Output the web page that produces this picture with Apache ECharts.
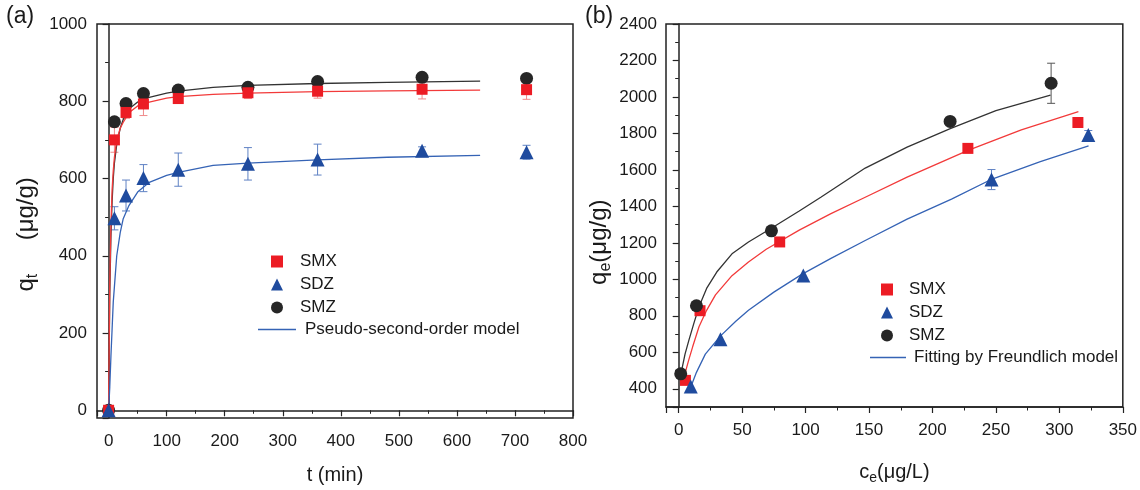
<!DOCTYPE html>
<html><head><meta charset="utf-8">
<script src="https://cdn.jsdelivr.net/npm/echarts@6/dist/echarts.min.js"></script>
<style>html,body{margin:0;padding:0;background:#fff}#c{width:1140px;height:490px}</style>
</head><body><div id="c"></div>
<script>
// ---------- Panel (a): kinetics ----------
const tMin   = [0, 10, 30, 60, 120, 240, 360, 540, 720];
const smxQt  = [0, 700, 771, 793, 807, 822, 826, 831, 830];
const sdzQt  = [0, 497, 556, 601, 623, 638, 649, 672, 668];
const smzQt  = [0, 747, 794, 820, 829, 836, 851, 862, 859];
const smxQtErr = [0, 32, 15, 30, 12, 15, 18, 25, 25];
const sdzQtErr = [0, 30, 40, 35, 43, 42, 40, 10, 18];
const smzQtErr = [0, 0, 0, 0, 0, 0, 0, 0, 0];
// fitted curves
const fitT     = [0, 2, 4, 6, 8, 10, 14, 20, 25, 35, 50, 70, 100, 120, 180, 240, 360, 480, 640];
const fitSMZa  = [0, 300, 450, 540, 600, 640, 688, 730, 752, 780, 798, 810, 821, 826, 836, 841, 846, 849, 852];
const fitSMXa  = [0, 330, 480, 570, 620, 655, 700, 730, 745, 770, 788, 798, 808, 812, 818, 821, 825, 827, 829];
const fitSDZa  = [0, 60, 140, 210, 280, 320, 400, 460, 495, 530, 565, 590, 608, 616, 634, 640, 648, 655, 660];

// ---------- Panel (b): isotherms ----------
const smxCe = [5.3, 16.8, 79.6, 227.9, 314.6];
const smxQe = [446, 828, 1205, 1718, 1860];
const sdzCe = [9.5, 32.9, 98.2, 246.5, 322.8];
const sdzQe = [412, 672, 1021, 1547, 1791];
const smzCe = [1.6, 14.0, 73.1, 213.9, 293.5];
const smzQe = [482, 855, 1266, 1866, 2075];
const smxQeErr = [0, 0, 0, 0, 0];
const sdzQeErr = [0, 0, 0, 55, 25];
const smzQeErr = [0, 0, 0, 0, 110];
const fitSMZbC = [2, 5, 8, 12, 16, 22, 30, 42, 55, 73, 95, 112, 147, 180, 214, 250, 293];
const fitSMZbQ = [490, 590, 665, 760, 850, 950, 1040, 1140, 1205, 1280, 1375, 1450, 1610, 1725, 1826, 1925, 2010];
const fitSMXbC = [4, 8, 11, 16, 22, 29, 42, 55, 69, 95, 120, 147, 180, 228, 270, 315];
const fitSMXbQ = [460, 560, 630, 740, 830, 915, 1020, 1095, 1165, 1270, 1360, 1450, 1560, 1707, 1820, 1919];
const fitSDZbC = [9, 14, 21, 33, 45, 55, 75, 97, 120, 147, 180, 215, 247, 285, 323];
const fitSDZbQ = [400, 490, 590, 690, 770, 830, 930, 1027, 1115, 1213, 1330, 1440, 1550, 1645, 1732];

const markerNames = ['SMX', 'SDZ', 'SMZ'];
const markerIcons = ['rect', 'triangle', 'circle'];
const fitNameA = 'Pseudo-second-order model';
const fitNameB = 'Fitting by Freundlich model';

const RED = '#ec1c24', BLUE = '#1f4b9e', BLACK = '#262626';
const RED_L = '#f23a3a', BLUE_L = '#3563b5', BLACK_L = '#333333';
const RED_E = '#f08a8a', BLUE_E = '#5f82c4', BLACK_E = '#555555';
const FONT = 'Liberation Sans, Arial, sans-serif';

const zip = (a, b) => a.map((v, i) => [v, b[i]]);

function errSeries(name, xs, ys, es, idx, color) {
  return {
    name, type: 'custom', xAxisIndex: idx, yAxisIndex: idx, silent: true, z: 2,
    encode: { x: 0, y: 1 },
    data: xs.map((x, i) => [x, ys[i], es[i]]).filter(d => d[2] > 0),
    renderItem(params, api) {
      const x = api.value(0), y = api.value(1), e = api.value(2);
      const top = api.coord([x, y + e]), bot = api.coord([x, y - e]);
      const w = 4, st = { stroke: color, lineWidth: 1 };
      return { type: 'group', children: [
        { type: 'line', shape: { x1: top[0], y1: top[1], x2: bot[0], y2: bot[1] }, style: st },
        { type: 'line', shape: { x1: top[0] - w, y1: top[1], x2: top[0] + w, y2: top[1] }, style: st },
        { type: 'line', shape: { x1: bot[0] - w, y1: bot[1], x2: bot[0] + w, y2: bot[1] }, style: st }
      ]};
    }
  };
}
function fitSeries(name, xs, ys, idx, color) {
  return { name, type: 'line', xAxisIndex: idx, yAxisIndex: idx, data: zip(xs, ys),
    symbol: 'none', showSymbol: false, smooth: false, silent: true, z: 3,
    lineStyle: { color, width: 1.3 }, itemStyle: { color } };
}
function scatSeries(name, xs, ys, idx, symbol, size, color, z) {
  return { name, type: 'scatter', xAxisIndex: idx, yAxisIndex: idx, data: zip(xs, ys),
    symbol, symbolSize: size, itemStyle: { color, opacity: 1 }, z };
}

const axisCommon = {
  type: 'value',
  axisLine: { show: true, lineStyle: { color: '#222', width: 1.5 } },
  axisTick: { show: true, inside: false, length: 6, lineStyle: { color: '#222', width: 1.2 } },
  minorTick: { show: true, splitNumber: 2, length: 3.5, lineStyle: { color: '#222', width: 1 } },
  splitLine: { show: false },
  axisLabel: { fontSize: 17, color: '#1a1a1a', fontFamily: FONT, showMinLabel: false, formatter: v => String(v) },
  nameLocation: 'middle',
  nameTextStyle: { color: '#1a1a1a', fontFamily: FONT }
};
const rich = {
  m: { fontSize: 20, fontFamily: FONT, color: '#1a1a1a', lineHeight: 26, verticalAlign: 'middle' },
  s: { fontSize: 14, fontFamily: FONT, color: '#1a1a1a', lineHeight: 12, verticalAlign: 'bottom' }
};
const richY = {
  m: { fontSize: 24, fontFamily: FONT, color: '#1a1a1a', lineHeight: 30, verticalAlign: 'middle' },
  s: { fontSize: 16, fontFamily: FONT, color: '#1a1a1a', lineHeight: 14, verticalAlign: 'bottom' }
};
const legendText = { fontSize: 17, color: '#1a1a1a', fontFamily: FONT };
function markerLegend(left, top, pad) {
  return { data: markerNames.map((n, i) => ({ name: n, icon: markerIcons[i] })),
    orient: 'vertical', left, top, padding: 0, itemWidth: 12, itemHeight: 12, itemGap: 6,
    selectedMode: false, textStyle: Object.assign({ padding: [0, 0, 0, pad] }, legendText) };
}
function lineLegend(name, left, top, w, pad) {
  return { data: [{ name, icon: 'rect' }], orient: 'vertical', left, top, padding: 0,
    itemWidth: w, itemHeight: 1.5, selectedMode: false,
    textStyle: Object.assign({ padding: [0, 0, 0, pad] }, legendText) };
}

const option = {
  animation: false,
  backgroundColor: '#fff',
  textStyle: { fontFamily: FONT },
  grid: [
    { left: 97, right: 567, top: 24, bottom: 69, show: true, borderColor: '#222', borderWidth: 1.5 },
    { left: 666, right: 17, top: 24, bottom: 72, show: true, borderColor: '#222', borderWidth: 1.5 }
  ],
  xAxis: [
    Object.assign({}, axisCommon, { gridIndex: 0, min: -20, max: 800, splitNumber: 8, minInterval: 100, maxInterval: 100,
      axisLabel: Object.assign({}, axisCommon.axisLabel, { margin: 15 }),
      name: 't (min)', nameGap: 47, nameTextStyle: { fontSize: 20, color: '#1a1a1a', fontFamily: FONT } }),
    Object.assign({}, axisCommon, { gridIndex: 1, min: -10, max: 350, splitNumber: 7, minInterval: 50, maxInterval: 50,
      axisLabel: Object.assign({}, axisCommon.axisLabel, { margin: 15 }),
      name: '{m|c}{s|e}{m|(μg/L)}', nameGap: 52, nameTextStyle: { rich } })
  ],
  yAxis: [
    Object.assign({}, axisCommon, { gridIndex: 0, min: -20, max: 1000, splitNumber: 5, minInterval: 200, maxInterval: 200,
      axisLabel: Object.assign({}, axisCommon.axisLabel, { margin: 10 }),
      name: '{m|q}{s|t}{m|     (μg/g)    }', nameRotate: 90, nameGap: 56,
      nameTextStyle: { rich: richY } }),
    Object.assign({}, axisCommon, { gridIndex: 1, min: 300, max: 2400, splitNumber: 10, minInterval: 200, maxInterval: 200,
      axisLabel: Object.assign({}, axisCommon.axisLabel, { margin: 9 }),
      name: '{m|q}{s|e}{m|(μg/g)        }', nameRotate: 90, nameGap: 52,
      nameTextStyle: { rich: richY } })
  ],
  legend: [
    markerLegend(271, 253, 12),
    lineLegend(fitNameA, 258, 321, 38, 4),
    markerLegend(881, 281, 11),
    lineLegend(fitNameB, 870, 349, 36, 3)
  ],
  graphic: [
    { type: 'text', left: 6, top: 5, style: { text: '(a)', fontSize: 23, fill: '#1a1a1a', fontFamily: FONT } },
    { type: 'text', left: 585, top: 5, style: { text: '(b)', fontSize: 23, fill: '#1a1a1a', fontFamily: FONT } }
  ],
  series: [
    // panel (a)
    fitSeries('fitSMZa', fitT, fitSMZa, 0, BLACK_L),
    fitSeries('fitSMXa', fitT, fitSMXa, 0, RED_L),
    fitSeries(fitNameA, fitT, fitSDZa, 0, BLUE_L),
    errSeries('errSMXa', tMin, smxQt, smxQtErr, 0, RED_E),
    errSeries('errSDZa', tMin, sdzQt, sdzQtErr, 0, BLUE_E),
    errSeries('errSMZa', tMin, smzQt, smzQtErr, 0, BLACK_E),
    scatSeries('SMZ', tMin, smzQt, 0, 'circle', 13, BLACK, 5),
    scatSeries('SMX', tMin, smxQt, 0, 'rect', 11, RED, 6),
    scatSeries('SDZ', tMin, sdzQt, 0, 'triangle', 14, BLUE, 7),
    // panel (b)
    fitSeries('fitSMZb', fitSMZbC, fitSMZbQ, 1, BLACK_L),
    fitSeries('fitSMXb', fitSMXbC, fitSMXbQ, 1, RED_L),
    fitSeries(fitNameB, fitSDZbC, fitSDZbQ, 1, BLUE_L),
    errSeries('errSMXb', smxCe, smxQe, smxQeErr, 1, RED_E),
    errSeries('errSDZb', sdzCe, sdzQe, sdzQeErr, 1, BLUE_E),
    errSeries('errSMZb', smzCe, smzQe, smzQeErr, 1, BLACK_E),
    scatSeries('SMX', smxCe, smxQe, 1, 'rect', 11, RED, 5),
    scatSeries('SDZ', sdzCe, sdzQe, 1, 'triangle', 14, BLUE, 6),
    scatSeries('SMZ', smzCe, smzQe, 1, 'circle', 13, BLACK, 7)
  ]
};
const chart = echarts.init(document.getElementById('c'), null, { renderer: 'canvas' });
chart.setOption(option);
</script>
</body></html>
